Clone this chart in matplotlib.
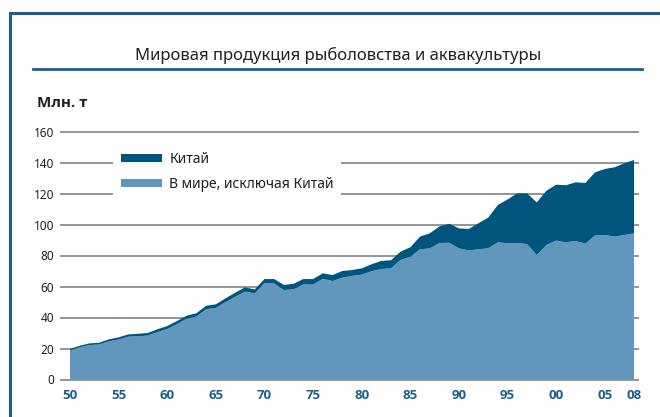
import matplotlib
matplotlib.use("Agg")
import matplotlib.pyplot as plt
from matplotlib.patches import Patch
from matplotlib.lines import Line2D

plt.rcParams['font.family'] = ['Noto Sans', 'DejaVu Sans']
bold_font = ['Open Sans', 'DejaVu Sans']

# values (million tonnes)
years = list(range(1950, 2009))
world_ex_china = [18.8, 20.8, 22.2, 22.6, 24.6, 25.8, 27.6, 27.9, 28.3, 30.6,
                  32.6, 35.7, 39.2, 40.6, 45.3, 46.2, 49.9, 53.4, 56.7, 55.6,
                  62.2, 62.0, 57.7, 58.2, 61.4, 61.2, 65.0, 63.5, 65.7, 66.8,
                  67.6, 69.8, 71.3, 71.7, 77.1, 79.2, 84.0, 84.6, 88.1, 88.2,
                  84.6, 83.3, 84.0, 84.6, 88.5, 87.9, 88.1, 87.4, 80.3, 86.8,
                  89.6, 88.5, 89.4, 87.6, 93.0, 93.2, 92.2, 93.2, 94.3]
china = [0.9, 1.0, 1.1, 1.1, 1.3, 1.4, 1.5, 1.6, 1.7, 1.8,
         1.9, 2.0, 2.0, 2.1, 2.3, 2.3, 2.5, 2.6, 2.8, 2.5,
         2.6, 2.8, 3.3, 3.6, 3.4, 3.6, 3.5, 3.9, 4.3, 3.8,
         4.1, 4.5, 5.2, 5.2, 5.4, 6.1, 8.2, 9.7, 10.7, 12.3,
         12.9, 13.8, 16.8, 19.8, 24.1, 28.3, 32.0, 32.7, 34.0, 35.0,
         36.1, 36.8, 37.8, 39.2, 40.7, 42.6, 44.7, 46.3, 47.3]

xticks = [1950, 1955, 1960, 1965, 1970, 1975, 1980, 1985, 1990, 1995, 2000, 2005, 2008]
xtick_labels = ["50", "55", "60", "65", "70", "75", "80", "85", "90", "95", "00", "05", "08"]

dark = "#00557f"
light = "#6197bc"
frame_blue = "#1b5f8c"
text_col = "#231f20"

W, H = 660, 417
fig = plt.figure(figsize=(6.6, 4.17), dpi=100)

# frame lines (left and top) and title underline
fig.add_artist(Line2D([10 / W, 10 / W], [0, 1 - 13 / H], color=frame_blue, lw=2.2))
fig.add_artist(Line2D([10 / W, 1], [1 - 13 / H, 1 - 13 / H], color=frame_blue, lw=2.2))
fig.add_artist(Line2D([33 / W, 642 / W], [1 - 69 / H, 1 - 69 / H], color=frame_blue, lw=2))

fig.text(338 / W, 1 - 55 / H, "Мировая продукция рыболовства и аквакультуры",
         ha="center", va="center", fontsize=12, color=text_col)
fig.text(37 / W, 1 - 103 / H, "Млн. т", ha="left", va="center", family=bold_font,
         fontsize=10.8, fontweight="bold", color=text_col)

ax = fig.add_axes([60 / W, 35.95 / H, 579 / W, 251.1 / H])
ax.stackplot(years, world_ex_china, china, colors=[light, dark], linewidth=0, zorder=2)

ax.set_xlim(1950 - 10 / 9.724, 2008 + 5 / 9.724)
ax.set_ylim(-1, 161)
ax.set_yticks(range(0, 161, 20))
ax.set_xticks(xticks)
ax.set_xticklabels(xtick_labels, fontweight="bold", family=bold_font,
                   color=frame_blue, fontsize=9.5)
ax.tick_params(axis="y", length=0, pad=4, labelsize=8.5, labelcolor=text_col)
ax.tick_params(axis="x", length=0, pad=6)
ax.grid(axis="y", color="#8c8c8c", lw=1.3, zorder=1)
ax.set_axisbelow(True)
for s in ax.spines.values():
    s.set_visible(False)

handles = [Patch(facecolor=dark, edgecolor="none", label="Китай"),
           Patch(facecolor=light, edgecolor="none", label="В мире, исключая Китай")]
leg = ax.legend(handles=handles, loc="upper left",
                bbox_to_anchor=(113 / W, 1 - 144 / H), bbox_transform=fig.transFigure,
                fontsize=10, frameon=True, fancybox=False, borderaxespad=0,
                borderpad=0.55, handlelength=3.0, handleheight=0.5,
                handletextpad=0.5, labelspacing=0.75)
leg.get_frame().set_facecolor("white")
leg.get_frame().set_edgecolor("none")
leg.get_frame().set_alpha(1)
for t in leg.get_texts():
    t.set_color(text_col)

fig.savefig("out.png", dpi=100)
